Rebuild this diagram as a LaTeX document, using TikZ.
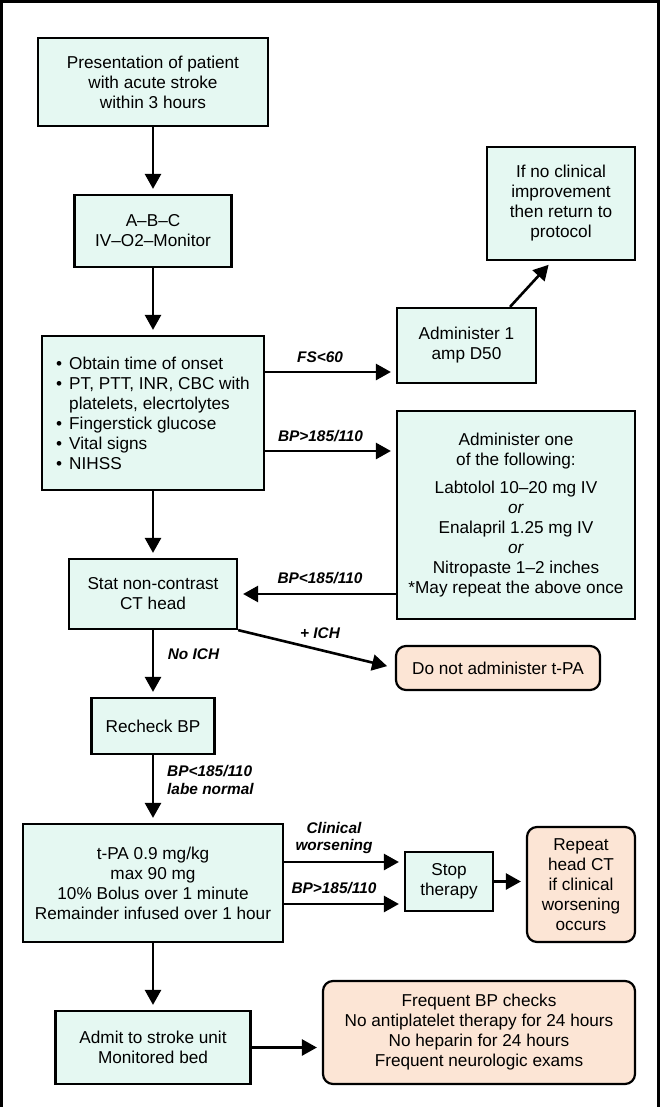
\documentclass[tikz,border=0pt]{standalone}
\usepackage{fontspec}
\setmainfont{Liberation Sans}
\usetikzlibrary{calc}
\usetikzlibrary{arrows.meta}
\definecolor{boxmint}{HTML}{E5F8F2}
\definecolor{boxpeach}{HTML}{FCE5D5}
\def\BoxLine{2.2pt}
\def\ArrowLine{2.6pt}
\def\ArrowGap{5pt}
\def\Bul{\makebox[13pt][l]{•}}
\tikzset{
  stepbox/.style={draw=black, line width=\BoxLine, fill=boxmint, align=center,
    inner sep=0pt, font=\fontsize{17.2}{20}\selectfont},
  endbox/.style={stepbox, fill=boxpeach, rounded corners=10pt},
  flow/.style={line width=\ArrowLine, -{Triangle[width=16pt,length=15pt]},
    shorten >=\ArrowGap},
  cond/.style={font=\fontsize{15.4}{17.5}\selectfont\bfseries\itshape, inner sep=0pt}
}

\begin{document}
\begin{tikzpicture}[x=1pt,y=-1pt]
  \useasboundingbox (0,0) rectangle (660,1107);
  % frame
  \draw[line width=3pt] (1.5,1107) -- (1.5,1.5) -- (658.5,1.5) -- (658.5,1107);
  % heights of the side arrows
  \coordinate (FSy) at (0,372);
  \coordinate (BPHighy) at (0,451);
  \coordinate (Worsey) at (0,862);
  \coordinate (BPStopy) at (0,904);
  % main column
  \node[stepbox, minimum width=230, minimum height=88] (Pres) at (153,82)
    {Presentation of patient\\with acute stroke\\within 3 hours};
  \node[stepbox, minimum width=157, minimum height=72] (ABC) at (153,231)
    {A–B–C\\IV–O2–Monitor};
  \node[stepbox, minimum width=222, minimum height=154, align=left] (Tests) at (153,413)
    {\Bul Obtain time of onset\\
     \Bul PT, PTT, INR, CBC with\\
     \hspace*{13pt}platelets, elecrtolytes\\
     \Bul Fingerstick glucose\\
     \Bul Vital signs\\
     \Bul NIHSS};
  \node[stepbox, minimum width=168, minimum height=70] (CT) at (153,594)
    {Stat non-contrast\\CT head};
  \node[stepbox, minimum width=123, minimum height=56] (Recheck) at (153,726)
    {Recheck BP};
  \node[stepbox, minimum width=260, minimum height=118] (TPA) at (153,883)
    {t-PA 0.9 mg/kg\\max 90 mg\\10\% Bolus over 1 minute\\Remainder infused over 1 hour};
  \node[stepbox, minimum width=195, minimum height=73] (Admit) at (153,1047.5)
    {Admit to stroke unit\\Monitored bed};
  % right column
  \node[stepbox, minimum width=148, minimum height=113] (NoImprove) at (561,203.5)
    {If no clinical\\improvement\\then return to\\protocol};
  \node[stepbox, minimum width=139, minimum height=75] (DFifty) at (466.5,345.5)
    {Administer 1\\amp D50};
  \node[stepbox, minimum width=238, minimum height=208] (Antihyp) at (516,515)
    {Administer one\\of the following:\\[8pt]
     Labtolol 10–20 mg IV\\\textit{or}\\Enalapril 1.25 mg IV\\\textit{or}\\
     Nitropaste 1–2 inches\\{}*May repeat the above once};
  \node[endbox, minimum width=204, minimum height=44] (NoTPA) at (498,668)
    {Do not administer t-PA};
  \node[stepbox, minimum width=88, minimum height=59] (Stop) at (449,881.5)
    {Stop\\therapy};
  \node[endbox, minimum width=108, minimum height=115] (RepeatCT) at (581,884.5)
    {Repeat\\head CT\\if clinical\\worsening\\occurs};
  \node[endbox, minimum width=312, minimum height=103] (Checks) at (479,1032.5)
    {Frequent BP checks\\No antiplatelet therapy for 24 hours\\No heparin for 24 hours\\Frequent neurologic exams};
  % arrows
  \draw[flow] (Pres) -- (ABC);
  \draw[flow] (ABC) -- (Tests);
  \draw[flow] (Tests) -- (CT);
  \draw[flow] (CT) -- (Recheck);
  \draw[flow] (Recheck) -- (TPA);
  \draw[flow] (TPA) -- (Admit);
  \draw[flow] (Tests.east |- FSy) -- (DFifty.west |- FSy);
  \draw[flow] (Tests.east |- BPHighy) -- (Antihyp.west |- BPHighy);
  \draw[flow] ($(DFifty.north)+(43.5,0)$) -- ($(NoImprove.south)+(-9,0)$);
  \draw[flow] (Antihyp.west |- CT) -- (CT.east);
  \draw[flow, shorten >=8pt] (CT.south east) -- (NoTPA.west);
  \draw[flow] (TPA.east |- Worsey) -- (Stop.west |- Worsey);
  \draw[flow] (TPA.east |- BPStopy) -- (Stop.west |- BPStopy);
  \draw[flow] (Stop.east) -- (RepeatCT.west |- Stop.east);
  \draw[flow] (Admit.east) -- (Checks.west |- Admit.east);
  % labels
  \node[cond] (FSlow) at (320,357) {FS<60};
  \node[cond] (BPhigh) at (320.5,436) {BP>185/110};
  \node[cond] (BPlow) at (320,578) {BP<185/110};
  \node[cond] (ICHyes) at (320,633) {+ ICH};
  \node[cond] (ICHno) at (193.5,654) {No ICH};
  \node[cond, anchor=west, align=left] (BPnormal) at (167,780) {BP<185/110\\labe normal};
  \node[cond, align=center] (Worse) at (334,838) {Clinical\\worsening};
  \node[cond] (BPstop) at (334,888) {BP>185/110};
\end{tikzpicture}
\end{document}
